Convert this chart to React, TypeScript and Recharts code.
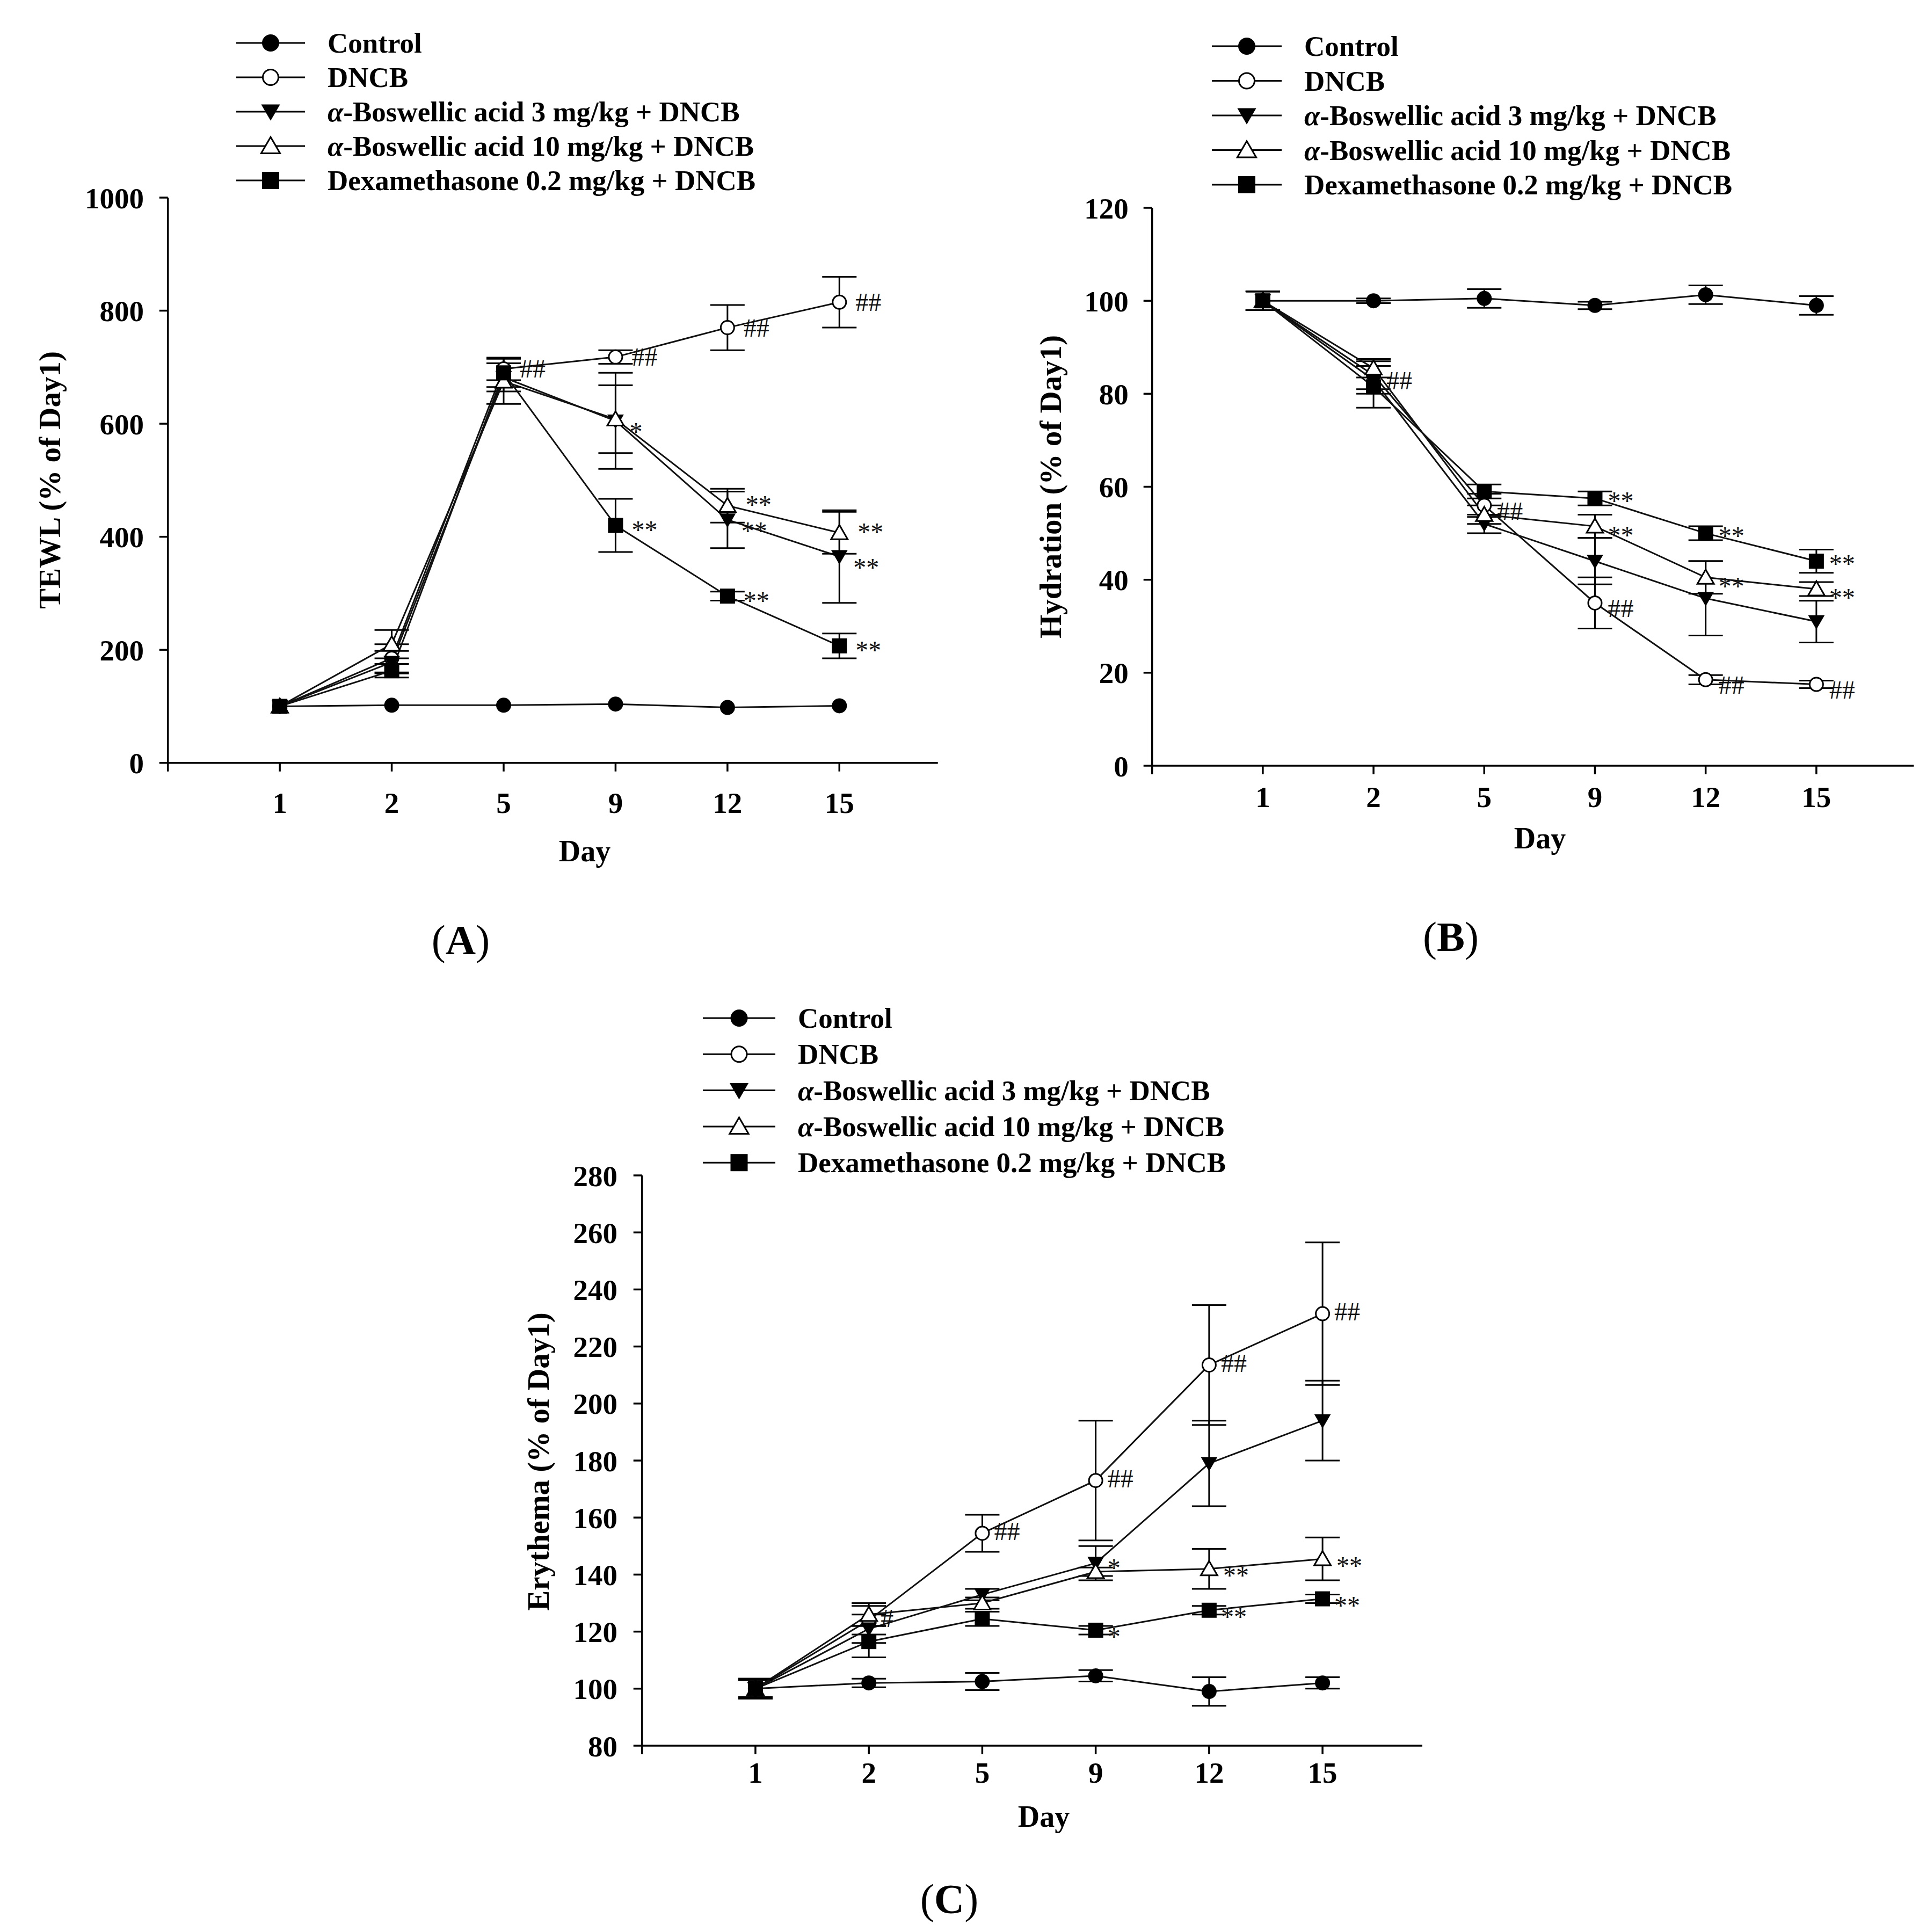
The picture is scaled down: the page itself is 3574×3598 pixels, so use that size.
import React from 'react';
import { LineChart, Line, XAxis, YAxis, ErrorBar, LabelList, Legend } from 'recharts';

const FONT = '"Liberation Serif", "Times New Roman", serif';

// ---------- shared ----------
const days = ['1', '2', '5', '9', '12', '15'];
const seriesNames = [
  'Control',
  'DNCB',
  'α-Boswellic acid 3 mg/kg + DNCB',
  'α-Boswellic acid 10 mg/kg + DNCB',
  'Dexamethasone 0.2 mg/kg + DNCB',
];
const seriesShapes = ['fc', 'oc', 'fd', 'ou', 'fs'];

// ---------- Panel A : TEWL ----------
const tewlTicks = [0, 200, 400, 600, 800, 1000];
const tewlControl = [100, 102, 102, 104, 98, 101];
const tewlControlErr = [0, 0, 0, 0, 0, 0];
const tewlDncb = [100, 185, 697, 718, 770, 815];
const tewlDncbErr = [0, 25, 20, 12, 40, 45];
const tewlBa3 = [100, 178, 682, 605, 430, 365];
const tewlBa3Err = [0, 20, 25, 85, 50, 82];
const tewlBa10 = [100, 210, 675, 608, 455, 407];
const tewlBa10Err = [0, 25, 40, 60, 30, 37];
const tewlDex = [100, 163, 690, 420, 295, 207];
const tewlDexErr = [0, 12, 25, 47, 8, 22];
const tewlControlMark = ['', '', '', '', '', ''];
const tewlDncbMark = ['', '', '##', '##', '##', '##'];
const tewlBa3Mark = ['', '', '', '*', '**', '**'];
const tewlBa10Mark = ['', '', '', '', '**', '**'];
const tewlDexMark = ['', '', '', '**', '**', '**'];

// ---------- Panel B : Hydration ----------
const hydTicks = [0, 20, 40, 60, 80, 100, 120];
const hydControl = [100, 100, 100.5, 99, 101.3, 99];
const hydControlErr = [2, 0.5, 2, 0.8, 2, 2];
const hydDncb = [100, 84, 56, 35, 18.5, 17.5];
const hydDncbErr = [2, 3, 2.5, 5.5, 1, 0.8];
const hydBa3 = [100, 83, 52, 44, 36, 31];
const hydBa3Err = [2, 3, 2, 5, 8, 4.5];
const hydBa10 = [100, 85.5, 54, 51.5, 40.5, 38];
const hydBa10Err = [2, 2, 2, 2.5, 3.5, 1.5];
const hydDex = [100, 81.5, 59, 57.5, 50, 44];
const hydDexErr = [2, 4.5, 1.5, 1.5, 1.5, 2.5];
const hydControlMark = ['', '', '', '', '', ''];
const hydDncbMark = ['', '##', '##', '##', '##', '##'];
const hydBa3Mark = ['', '', '', '', '', ''];
const hydBa10Mark = ['', '', '', '**', '**', '**'];
const hydDexMark = ['', '', '', '**', '**', '**'];

// ---------- Panel C : Erythema ----------
const eryTicks = [80, 100, 120, 140, 160, 180, 200, 220, 240, 260, 280];
const eryControl = [100, 102, 102.5, 104.5, 99, 102];
const eryControlErr = [3.5, 1.5, 3, 2, 5, 2];
const eryDncb = [100, 124, 154.5, 173, 213.5, 231.5];
const eryDncbErr = [3, 5, 6.5, 21, 21, 25];
const eryBa3 = [100, 121, 133, 144, 179, 194];
const eryBa3Err = [3, 5, 2, 6, 15, 14];
const eryBa10 = [100, 126, 130, 141, 142, 145.5];
const eryBa10Err = [3, 4, 2, 1.5, 7, 7.5];
const eryDex = [100, 116.5, 124.5, 120.5, 127.5, 131.5];
const eryDexErr = [3.5, 5.5, 2.5, 1.5, 1.5, 1.5];
const eryControlMark = ['', '', '', '', '', ''];
const eryDncbMark = ['', '#', '##', '##', '##', '##'];
const eryBa3Mark = ['', '', '', '*', '', ''];
const eryBa10Mark = ['', '', '', '', '**', '**'];
const eryDexMark = ['', '', '', '*', '**', '**'];

// ---------- layout ----------
const YW = 200;
const XH = 150;

const panels = [
  {
    id: 'A',
    chartLeft: 0, chartTop: 0, chartW: 1790, chartH: 1800,
    plot: { left: 312.7, top: 368, right: 1746.7, bottom: 1420.7 },
    values: [tewlControl, tewlDncb, tewlBa3, tewlBa10, tewlDex],
    errors: [tewlControlErr, tewlDncbErr, tewlBa3Err, tewlBa10Err, tewlDexErr],
    marks: [tewlControlMark, tewlDncbMark, tewlBa3Mark, tewlBa10Mark, tewlDexMark],
    yDomain: [0, 1000], yTicks: tewlTicks,
    yLabel: 'TEWL (% of Day1)', yLabelPos: { x: 92, y: 894 }, dayPos: { x: 1089, y: 1604 },
    xTickMargin: 38, yTickMargin: 28.7,
    legend: { x: 420, y: 40, gap: 64, lineLen: 128 },
    annDx: [30, 30, 26, 34, 30],
    annDy: [0, 0, 12, -10, 0],
    tag: { x: 858, y: 1777 },
  },
  {
    id: 'B',
    chartLeft: 1790, chartTop: 0, chartW: 1784, chartH: 1800,
    plot: { left: 2145.7, top: 387, right: 3564.3, bottom: 1426 },
    values: [hydControl, hydDncb, hydBa3, hydBa10, hydDex],
    errors: [hydControlErr, hydDncbErr, hydBa3Err, hydBa10Err, hydDexErr],
    marks: [hydControlMark, hydDncbMark, hydBa3Mark, hydBa10Mark, hydDexMark],
    yDomain: [0, 120], yTicks: hydTicks,
    yLabel: 'Hydration (% of Day1)', yLabelPos: { x: 166, y: 906.5 }, dayPos: { x: 1078, y: 1580 },
    xTickMargin: 22, yTickMargin: 28,
    legend: { x: 447, y: 46, gap: 64.5, lineLen: 130 },
    annDx: [24, 24, 24, 24, 24],
    annDy: [0, 10, 0, 8, -4],
    tag: { x: 2702, y: 1771 },
  },
  {
    id: 'C',
    chartLeft: 900, chartTop: 1780, chartW: 1800, chartH: 1818,
    plot: { left: 1195.7, top: 2189, right: 2649, bottom: 3251 },
    values: [eryControl, eryDncb, eryBa3, eryBa10, eryDex],
    errors: [eryControlErr, eryDncbErr, eryBa3Err, eryBa10Err, eryDexErr],
    marks: [eryControlMark, eryDncbMark, eryBa3Mark, eryBa10Mark, eryDexMark],
    yDomain: [80, 280], yTicks: eryTicks,
    yLabel: 'Erythema (% of Day1)', yLabelPos: { x: 102, y: 942 }, dayPos: { x: 1044, y: 1622 },
    xTickMargin: 13.5, yTickMargin: 29.7,
    legend: { x: 389, y: 75.7, gap: 67.3, lineLen: 135 },
    annDx: [22, 22, 22, 26, 22],
    annDy: [0, -4, 0, 4, 4],
    tag: { x: 1768, y: 3563 },
  },
];

const INK = '#000';

function Marker({ cx, cy, shape, size }: { cx: number; cy: number; shape: string; size: number }) {
  const h = size / 2;
  switch (shape) {
    case 'fc':
      return <circle cx={cx} cy={cy} r={h} fill={INK} />;
    case 'oc':
      return <circle cx={cx} cy={cy} r={h - 1.5} fill="#fff" stroke={INK} strokeWidth={3} />;
    case 'fd':
      return (
        <polygon
          points={`${cx - h * 1.1},${cy - h * 0.85} ${cx + h * 1.1},${cy - h * 0.85} ${cx},${cy + h * 1.05}`}
          fill={INK}
        />
      );
    case 'ou':
      return (
        <polygon
          points={`${cx - h * 1.1},${cy + h * 0.85} ${cx + h * 1.1},${cy + h * 0.85} ${cx},${cy - h * 1.05}`}
          fill="#fff"
          stroke={INK}
          strokeWidth={3}
          strokeLinejoin="miter"
        />
      );
    default:
      return <rect x={cx - h} y={cy - h} width={size} height={size} fill={INK} />;
  }
}

function renderName(name: string) {
  if (name.startsWith('α')) {
    return (
      <>
        <tspan fontStyle="italic">α</tspan>
        <tspan>{name.slice(1)}</tspan>
      </>
    );
  }
  return name;
}

function LegendBox({ cfg }: { cfg: any }) {
  const { gap, lineLen } = cfg.legend;
  return (
    <svg width={1300} height={380} style={{ overflow: 'visible', display: 'block' }}>
      {seriesNames.map((name, k) => {
        const y = 40 + gap * k;
        return (
          <g key={name}>
            <line x1={20} x2={20 + lineLen} y1={y} y2={y} stroke={INK} strokeWidth={3} />
            <Marker cx={20 + lineLen / 2} cy={y} shape={seriesShapes[k]} size={32} />
            <text
              x={20 + lineLen + 42}
              y={y}
              dominantBaseline="central"
              fontFamily={FONT}
              fontWeight="bold"
              fontSize={53}
              fill={INK}
            >
              {renderName(name)}
            </text>
          </g>
        );
      })}
    </svg>
  );
}

function Panel({ cfg }: { cfg: any }) {
  const data = days.map((d, i) => {
    const row: any = { i, day: d };
    cfg.values.forEach((v: number[], k: number) => {
      row[`v${k}`] = v[i];
      row[`e${k}`] = cfg.errors[k][i];
      row[`m${k}`] = cfg.marks[k][i];
    });
    return row;
  });
  const p = cfg.plot;
  const margin = {
    top: p.top - cfg.chartTop,
    left: p.left - cfg.chartLeft - YW,
    right: cfg.chartLeft + cfg.chartW - p.right,
    bottom: cfg.chartTop + cfg.chartH - p.bottom - XH,
  };
  const tickStyle = { fill: INK, fontSize: 55, fontFamily: FONT, fontWeight: 'bold' };
  const axisLine = { stroke: INK, strokeWidth: 3.5 };
  const tickLine = { stroke: INK, strokeWidth: 3.5 };

  const annContent = (k: number) => (props: any) => {
    const { x, y, value, index } = props;
    if (!value || x == null || y == null) return null;
    const star = String(value).includes('*');
    return (
      <text
        key={`ann-${k}-${index}`}
        x={x + cfg.annDx[k]}
        y={y + (star ? 8 : 0) + cfg.annDy[k]}
        dominantBaseline="central"
        textAnchor="start"
        fontFamily={FONT}
        fontSize={48}
        fill="#111"
      >
        {value}
      </text>
    );
  };

  return (
    <div style={{ position: 'absolute', left: cfg.chartLeft, top: cfg.chartTop }}>
      <LineChart width={cfg.chartW} height={cfg.chartH} data={data} margin={margin}>
        <XAxis
          type="number"
          dataKey="i"
          domain={[-1, 5.88]}
          ticks={[-1, 0, 1, 2, 3, 4, 5]}
          interval={0}
          tickFormatter={(v: number) => (v < 0 ? '' : days[v])}
          height={XH}
          tickSize={16}
          tickMargin={cfg.xTickMargin}
          tick={tickStyle}
          axisLine={axisLine}
          tickLine={tickLine}
          allowDataOverflow
          label={() => (
            <text
              x={cfg.dayPos.x}
              y={cfg.dayPos.y}
              textAnchor="middle"
              fontFamily={FONT}
              fontWeight="bold"
              fontSize={56}
              fill={INK}
            >
              Day
            </text>
          )}
        />
        <YAxis
          type="number"
          domain={cfg.yDomain}
          ticks={cfg.yTicks}
          interval={0}
          width={YW}
          tickSize={16}
          tickMargin={cfg.yTickMargin}
          tick={tickStyle}
          axisLine={axisLine}
          tickLine={tickLine}
          allowDataOverflow
          label={() => (
            <text
              x={cfg.yLabelPos.x}
              y={cfg.yLabelPos.y}
              transform={`rotate(-90, ${cfg.yLabelPos.x}, ${cfg.yLabelPos.y})`}
              textAnchor="middle"
              dominantBaseline="central"
              fontFamily={FONT}
              fontWeight="bold"
              fontSize={57}
              fill={INK}
            >
              {cfg.yLabel}
            </text>
          )}
        />
        {seriesNames.map((name, k) => (
          <Line
            key={name}
            name={name}
            type="linear"
            dataKey={`v${k}`}
            stroke="#111"
            strokeWidth={3}
            isAnimationActive={false}
            activeDot={false}
            dot={(props: any) => {
              const { cx, cy, index } = props;
              return (
                <g key={`dot-${k}-${index}`}>
                  {cx != null && cy != null ? (
                    <Marker cx={cx} cy={cy} shape={seriesShapes[k]} size={28} />
                  ) : null}
                </g>
              );
            }}
          >
            <ErrorBar dataKey={`e${k}`} width={32} strokeWidth={3} stroke={INK} direction="y" />
            <LabelList dataKey={`m${k}`} content={annContent(k)} />
          </Line>
        ))}
        <Legend
          layout="vertical"
          align="center"
          verticalAlign="middle"
          wrapperStyle={{ left: cfg.legend.x, top: cfg.legend.y, width: 1300, height: 380 }}
          content={() => <LegendBox cfg={cfg} />}
        />
      </LineChart>
    </div>
  );
}

export default function App() {
  return (
    <div
      style={{
        position: 'absolute',
        left: 0,
        top: 0,
        width: 3574,
        height: 3598,
        background: '#fff',
        overflow: 'hidden',
      }}
    >
      {panels.map((cfg) => (
        <Panel key={cfg.id} cfg={cfg} />
      ))}
      <svg
        width={3574}
        height={3598}
        style={{ position: 'absolute', left: 0, top: 0, pointerEvents: 'none' }}
      >
        {panels.map((cfg) => (
          <text
            key={cfg.id}
            x={cfg.tag.x}
            y={cfg.tag.y}
            textAnchor="middle"
            fontFamily={FONT}
            fontSize={78}
            fill={INK}
          >
            (<tspan fontWeight="bold">{cfg.id}</tspan>)
          </text>
        ))}
      </svg>
    </div>
  );
}
